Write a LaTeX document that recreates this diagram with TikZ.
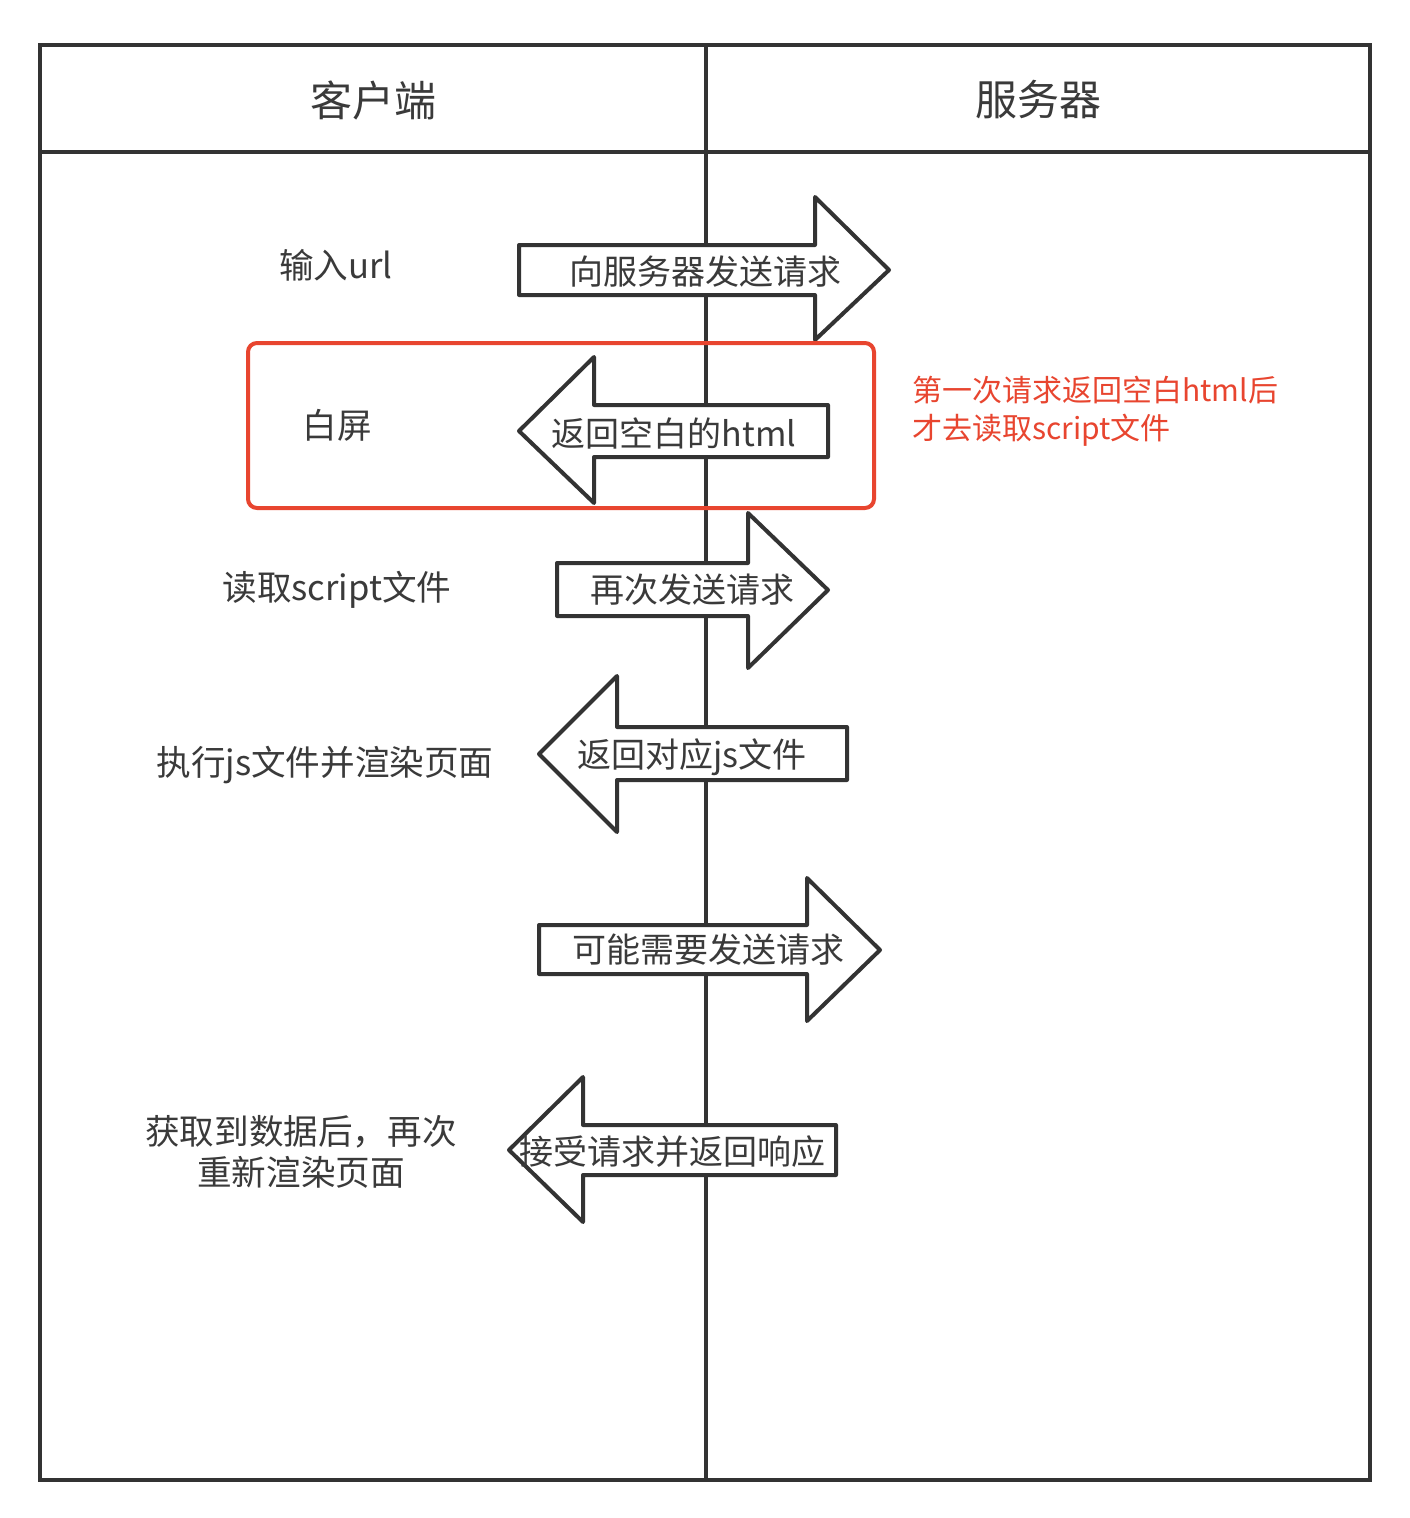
\documentclass[tikz,border=0pt]{standalone}
\usepackage{fontspec}
\setmainfont{Noto Sans CJK SC}
\definecolor{ink}{HTML}{333333}
\definecolor{txt}{HTML}{3A3A3A}
\definecolor{redc}{HTML}{E8452F}
\begin{document}
\begin{tikzpicture}[x=1pt,y=-1pt,
  frame/.style={draw=ink,line width=4pt},
  arrowshape/.style={draw=ink,fill=white,line width=4pt,line join=round},
  hdr/.style={text=txt,font=\fontsize{42}{48}\selectfont,inner sep=0pt},
  arrtxt/.style={text=txt,font=\fontsize{34}{40}\selectfont,inner sep=0pt},
  lefttxt/.style={text=txt,font=\fontsize{34.6}{41}\selectfont,inner sep=0pt,align=center},
  note/.style={text=redc,font=\fontsize{30}{38}\selectfont,inner sep=0pt,align=left,anchor=west},
  hilite/.style={draw=redc,line width=4pt,rounded corners=9pt}]
\useasboundingbox (0,0) rectangle (1410,1518);
\fill[white] (0,0) rectangle (1410,1518);
% frame
\draw[frame] (40,45) rectangle (1370,1480);
\draw[frame] (40,152) -- (1370,152);
\draw[frame] (706,45) -- (706,1480);
% headers
\node[hdr] (client) at (373,100) {客户端};
\node[hdr] (server) at (1038,100) {服务器};
% arrow 1 (right)
\draw[arrowshape] (519,245) -- (815,245) -- (815,197) -- (889,270) -- (815,340) -- (815,295) -- (519,295) -- cycle;
% arrow 2 (left)
\draw[arrowshape] (828,405) -- (594,405) -- (594,357) -- (519,431) -- (594,503) -- (594,457) -- (828,457) -- cycle;
% arrow 3 (right)
\draw[arrowshape] (557,563) -- (748,563) -- (748,513) -- (828,590) -- (748,668) -- (748,616) -- (557,616) -- cycle;
% arrow 4 (left)
\draw[arrowshape] (847,727) -- (617,727) -- (617,676) -- (539,754) -- (617,832) -- (617,780) -- (847,780) -- cycle;
% arrow 5 (right)
\draw[arrowshape] (539,925) -- (807,925) -- (807,878) -- (880,950) -- (807,1021) -- (807,974) -- (539,974) -- cycle;
% arrow 6 (left)
\draw[arrowshape] (836,1125) -- (583,1125) -- (583,1077) -- (509,1150) -- (583,1222) -- (583,1175) -- (836,1175) -- cycle;
% red highlight
\draw[hilite] (248,343) rectangle (874,508);
% arrow labels
\node[arrtxt] (a1) at (705,272) {向服务器发送请求};
\node[arrtxt] (a2) at (674,433) {返回空白的html};
\node[arrtxt] (a3) at (692,590) {再次发送请求};
\node[arrtxt] (a4) at (692,757) {返回对应js文件};
\node[arrtxt] (a5) at (708,950) {可能需要发送请求};
\node[arrtxt] (a6) at (672,1152) {接受请求并返回响应};
% left labels
\node[lefttxt] (l1) at (336,265) {输入url};
\node[lefttxt] (l2) at (337,425) {白屏};
\node[lefttxt] (l3) at (337,590) {读取script文件};
\node[lefttxt] (l4) at (325,765) {执行js文件并渲染页面};
\node[lefttxt] (l5) at (301,1152) {获取到数据后，再次\\重新渲染页面};
% note
\node[note] (n1) at (912,411) {第一次请求返回空白html后\\才去读取script文件};
\end{tikzpicture}
\end{document}
